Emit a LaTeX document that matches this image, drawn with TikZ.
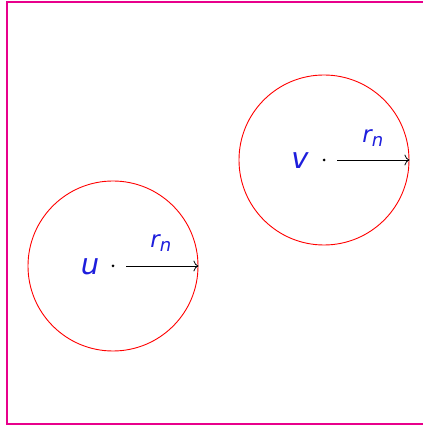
\documentclass[tikz,border=0pt]{standalone}
\usepackage{fontspec}
\setmainfont{DejaVu Sans}
\usetikzlibrary{arrows.meta}
\definecolor{framec}{RGB}{232,0,140}
\definecolor{labc}{RGB}{30,30,220}
\begin{document}
\begin{tikzpicture}[x=1pt,y=1pt,
  disc/.style={circle,draw=red,line width=0.9pt,minimum size=170pt,inner sep=0pt},
  ptlabel/.style={text=labc,font=\fontsize{29}{32}\selectfont\itshape,inner sep=0pt},
  radlabel/.style={text=labc,font=\fontsize{23}{26}\selectfont\itshape,inner sep=0pt},
  radius arrow/.style={-{To[length=5pt,width=11pt]},line width=0.8pt},
  ctr/.style={circle,fill=black,inner sep=0pt,minimum size=3pt}]
\useasboundingbox (0,0) rectangle (423,426);
\draw[framec,line width=1.8pt] (7,424) rectangle (440,2);
% left circle
\node[disc] (cu) at (113,160) {};
\node[ctr] (u) at (113,160) {};
\node[ptlabel] (ul) at (90,159) {u};
\coordinate (ua) at (126,160);
\draw[radius arrow] (ua) -- (cu.east);
\node[radlabel] (ur) at (161,183) {r\textsubscript{\fontsize{18}{20}\selectfont n}};
% right circle
\node[disc] (cv) at (324,266) {};
\node[ctr] (v) at (324,266) {};
\node[ptlabel] (vl) at (300,265) {v};
\coordinate (va) at (337,266);
\draw[radius arrow] (va) -- (cv.east);
\node[radlabel] (vr) at (373,288) {r\textsubscript{\fontsize{18}{20}\selectfont n}};
\end{tikzpicture}
\end{document}
